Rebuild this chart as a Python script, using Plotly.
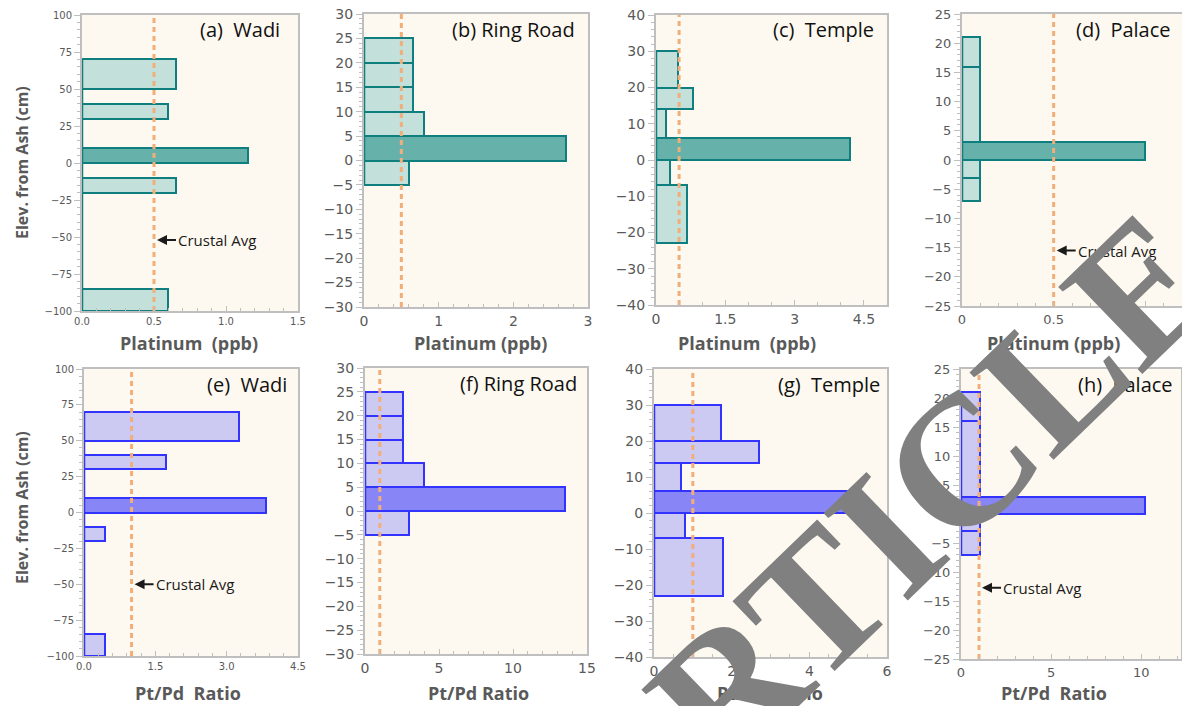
import plotly.graph_objects as go

W, H = 1190, 706
OFF = 8  # page body margin of the saved html

# sample layers: elevation of top / bottom of each layer (cm from the ash)
wadi_top = [70, 50, 40, 30, 10, 0, -10, -20, -85]
wadi_bot = [50, 40, 30, 10, 0, -10, -20, -85, -100]
wadi_pt = [0.65, 0, 0.60, 0, 1.15, 0, 0.65, 0, 0.60]
wadi_ratio = [3.25, 0, 1.72, 0, 3.83, 0, 0.45, 0, 0.44]

ring_top = [25, 20, 15, 10, 5, 0]
ring_bot = [20, 15, 10, 5, 0, -5]
ring_pt = [0.65, 0.65, 0.65, 0.80, 2.70, 0.60]
ring_ratio = [2.6, 2.6, 2.6, 4.0, 13.5, 3.0]

temple_top = [30, 20, 14, 6, 0, -7]
temple_bot = [20, 14, 6, 0, -7, -23]
temple_pt = [0.48, 0.79, 0.21, 4.20, 0.30, 0.68]
temple_ratio = [1.73, 2.70, 0.69, 5.0, 0.81, 1.78]

palace_top = [21, 16, 3, 0, -3]
palace_bot = [16, 3, 0, -3, -7]
palace_pt = [0.1, 0.1, 1.0, 0.1, 0.1]
palace_ratio = [1.04, 1.04, 10.2, 1.04, 1.04]

crustal_pt = 0.5
crustal_ratio = 1.0

NB = "\u00a0"
pt_title = "Platinum" + NB + " (ppb)"
ratio_title = "Pt/Pd" + NB + " Ratio"

TEAL = dict(edge="#0E7F7E", light="#C4E0DA", dark="#67B1AB")
BLUE = dict(edge="#3333FF", light="#CCCAF2", dark="#8886F7")


def px(x):
    return (x - OFF) / W


def py(y):
    return 1 - (y - OFF) / H


# label, top, bot, values, crustal, xrange, xdtick, xminor, xfmt,
# yrange, ydtick, yminor, arrow y, x title, colours, pixel box,
# title pos, tick size, label gap
panels = [
    ("(a)" + NB + " Wadi", wadi_top, wadi_bot, wadi_pt, crustal_pt,
     [0, 1.5], 0.5, 0.1, ".1f", [-100, 100], 25, 5, -52,
     pt_title, TEAL, (82, 15, 298, 311), (189, 343), 10, 16),
    ("(b) Ring Road", ring_top, ring_bot, ring_pt, crustal_pt,
     [0, 3], 1, 0.2, "", [-30, 30], 5, 1, None,
     "Platinum (ppb)", TEAL, (364, 14, 588, 307), (480, 343), 14, 11),
    ("(c)" + NB + " Temple", temple_top, temple_bot, temple_pt, crustal_pt,
     [0, 5], 1.5, 0.5, "", [-40, 40], 10, 2, None,
     pt_title, TEAL, (656, 15, 887, 305), (747, 343), 14, 11),
    ("(d)" + NB + " Palace", palace_top, palace_bot, palace_pt, crustal_pt,
     [0, 1.2], 0.5, 0.1, "", [-25, 25], 5, 1, -15.5,
     "Platinum (ppb)", TEAL, (962, 14, 1182, 306), (1053, 343), 13, 9),
    ("(e)" + NB + " Wadi", wadi_top, wadi_bot, wadi_ratio, crustal_ratio,
     [0, 4.5], 1.5, 0.3, ".1f", [-100, 100], 25, 5, -50,
     ratio_title, BLUE, (84, 369, 298, 656), (188, 693), 10, 9),
    ("(f) Ring Road", ring_top, ring_bot, ring_ratio, crustal_ratio,
     [0, 15], 5, 1, "", [-30, 30], 5, 1, None,
     "Pt/Pd Ratio", BLUE, (365, 368, 587, 654), (478, 693), 14, 8),
    ("(g)" + NB + " Temple", temple_top, temple_bot, temple_ratio, crustal_ratio,
     [0, 6], 2, 0.5, "", [-40, 40], 10, 2, None,
     ratio_title, BLUE, (654, 369, 887, 657), (770, 693), 14, 5),
    ("(h)" + NB + " Palace", palace_top, palace_bot, palace_ratio, crustal_ratio,
     [0, 12.2], 5, 1, "", [-25, 25], 5, 1, -12.7,
     ratio_title, BLUE, (961, 369, 1181, 659), (1054, 693), 13, 6),
]

fig = go.Figure()
annotations = []
layout_axes = {}

for i, p in enumerate(panels, start=1):
    (label, top, bot, vals, crustal, xr, xdt, xmin, xfmt, yr, ydt, ymin,
     arrow_y, xtitle, col, box, tpos, tsize, gap) = p
    xa = "x" if i == 1 else f"x{i}"
    ya = "y" if i == 1 else f"y{i}"
    centers = [(t + b) / 2 for t, b in zip(top, bot)]
    widths = [t - b for t, b in zip(top, bot)]
    colors = [col["dark"] if b == 0 else col["light"] for b in bot]

    fig.add_trace(go.Bar(
        orientation="h", x=vals, y=centers, width=widths,
        marker=dict(color=colors, line=dict(color=col["edge"], width=2)),
        xaxis=xa, yaxis=ya, showlegend=False, hoverinfo="x+y"))
    # left edge of the stacked layers (also shows the empty layers)
    fig.add_trace(go.Scatter(
        x=[0, 0], y=[max(top), min(bot)], mode="lines",
        line=dict(color=col["edge"], width=2.5),
        xaxis=xa, yaxis=ya, showlegend=False, hoverinfo="skip"))
    fig.add_trace(go.Scatter(
        x=[crustal, crustal], y=yr, mode="lines",
        line=dict(color="#F2AE78", width=3, dash="5px,4px"),
        xaxis=xa, yaxis=ya, showlegend=False, hoverinfo="skip"))

    x0, y0, x1, y1 = box
    axis_common = dict(showline=True, linecolor="#BFBFBF", linewidth=2,
                       mirror=True, showgrid=False, zeroline=False,
                       tickcolor="#BFBFBF", ticklabeloverflow="allow",
                       tickfont=dict(family="DejaVu Sans", size=tsize, color="#595959"))
    layout_axes["xaxis" if i == 1 else f"xaxis{i}"] = dict(
        axis_common, domain=[px(x0), px(x1)], anchor=ya, range=xr,
        dtick=xdt, tick0=0, tickformat=xfmt, ticks="inside", ticklen=5,
        minor=dict(dtick=xmin, ticks="inside", ticklen=3, tickcolor="#BFBFBF"))
    layout_axes["yaxis" if i == 1 else f"yaxis{i}"] = dict(
        axis_common, domain=[py(y1), py(y0)], anchor=xa, range=yr,
        dtick=ydt, tick0=0, ticks="outside", ticklen=6,
        minor=dict(dtick=ymin, ticks="outside", ticklen=3, tickcolor="#BFBFBF"))

    annotations.append(dict(
        text=label, xref="paper", yref="paper", x=px(x1 - gap), y=py(y0 + 15),
        xanchor="right", yanchor="middle", showarrow=False,
        font=dict(family="Open Sans", size=20, color="#111111")))
    annotations.append(dict(
        text="<b>" + xtitle + "</b>", xref="paper", yref="paper",
        x=px(tpos[0]), y=py(tpos[1]), xanchor="center", yanchor="middle",
        showarrow=False, font=dict(family="Open Sans", size=18, color="#595959")))
    if arrow_y is not None:
        annotations.append(dict(
            text="Crustal Avg", xref=xa, yref=ya, x=crustal, y=arrow_y,
            ax=22, ay=0, xanchor="left", showarrow=True, arrowhead=2,
            arrowsize=1, arrowwidth=2, arrowcolor="#1A1A1A", standoff=3,
            font=dict(family="Open Sans", size=15, color="#1A1A1A")))

for yc in (163, 508):
    annotations.append(dict(
        text="<b>Elev. from Ash (cm)</b>", xref="paper", yref="paper",
        x=px(22), y=py(yc), textangle=-90, showarrow=False,
        xanchor="center", yanchor="middle",
        font=dict(family="Open Sans", size=16, color="#595959")))

# watermark stamped over the published figure
annotations.append(dict(
    text="<b>ARTICLE</b>", xref="paper", yref="paper", x=px(884), y=py(536),
    xanchor="center", yanchor="middle", textangle=-44, showarrow=False,
    font=dict(family="Liberation Serif", size=185, color="#808080")))

fig.update_layout(
    width=W, height=H,
    margin=dict(l=0, r=0, t=0, b=0, autoexpand=False),
    paper_bgcolor="white", plot_bgcolor="#FEF9F0",
    bargap=0, annotations=annotations, showlegend=False,
    **layout_axes)

fig.write_html("out.html")
